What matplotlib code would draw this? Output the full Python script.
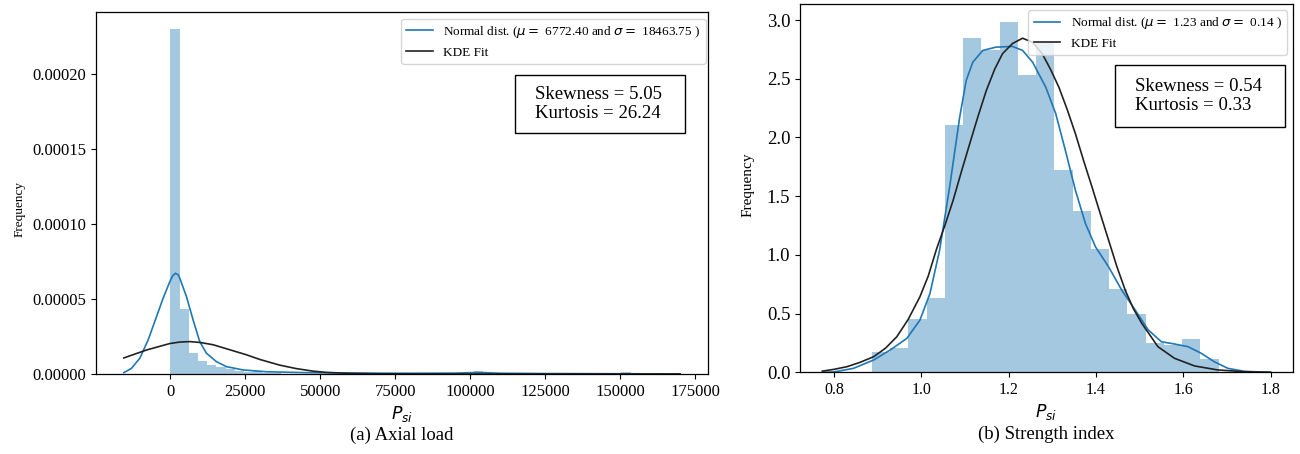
import numpy as np
import matplotlib
matplotlib.use("Agg")
import matplotlib.pyplot as plt
from matplotlib.patches import Rectangle

plt.rcParams['font.family'] = ['Liberation Serif', 'DejaVu Sans']
plt.rcParams['mathtext.fontset'] = 'dejavusans'

# ---- (a) Axial load ----
axial_bin_start = 0.0
axial_bin_width = 3070.0
axial_hist = [2.298e-4, 4.33e-5, 1.38e-5, 8.9e-6, 6.0e-6, 4.4e-6, 3.1e-6, 2.0e-6, 1.5e-6, 1.7e-6,
              0.6e-6, 0.4e-6, 0.3e-6, 0.3e-6, 0.2e-6, 0, 0, 0.2e-6, 0, 0,
              0, 0, 0, 0, 0, 0, 0, 0, 0, 0,
              0, 0, 0, 2.2e-6, 0.3e-6, 0, 0, 0, 0, 0,
              0, 0, 0, 0, 0, 0, 0, 0, 0, 1.1e-6]
# KDE curve (drawn blue, labelled "Normal dist.")
axial_kde_x = [-15500, -12930, -10170, -7390, -4600, -2400, -170, 800, 1700, 2600, 3170, 5400,
               7600, 9830, 12060, 15400, 18730, 24270, 32070, 45000, 60000, 80000,
               95000, 102000, 105000, 110000, 125000, 145000, 160000, 170000]
axial_kde_y = [0.9e-6, 3.8e-6, 1.05e-5, 2.27e-5, 3.82e-5, 5.05e-5, 6.15e-5, 6.55e-5, 6.71e-5, 6.62e-5,
               6.38e-5, 5.15e-5, 3.6e-5, 2.15e-5, 1.38e-5, 8.2e-6, 4.9e-6, 2.7e-6, 1.5e-6, 0.9e-6,
               0.6e-6, 0.5e-6, 0.6e-6, 1.0e-6, 0.9e-6, 0.5e-6, 0.3e-6, 0.2e-6, 0.1e-6, 0.05e-6]
# fitted curve (drawn black, labelled "KDE Fit")
axial_fit_x = [-15500, -7930, -170, 3170, 6500, 10000, 14270, 20930, 25400, 30000, 36500,
               42000, 47600, 52000, 58700, 70000, 90000, 120000, 150000, 170000]
axial_fit_y = [1.07e-5, 1.6e-5, 2.03e-5, 2.13e-5, 2.16e-5, 2.1e-5, 1.95e-5, 1.55e-5, 1.28e-5, 9.6e-6,
               5.9e-6, 3.6e-6, 1.9e-6, 1.1e-6, 0.5e-6, 0.1e-6, 0, 0, 0, 0]
axial_mu, axial_sigma = 6772.40, 18463.75
axial_skew, axial_kurt = 5.05, 26.24

# ---- (b) Strength index ----
strength_bin_start = 0.887
strength_bin_width = 0.0418
strength_hist = [0.175, 0.21, 0.453, 0.629, 2.109, 2.845, 2.741, 2.987, 2.531, 2.80,
                 1.726, 1.374, 1.054, 0.706, 0.493, 0.247, 0.235, 0.281, 0.113]
strength_kde_x = [0.7736, 0.80, 0.845, 0.891, 0.929, 0.967, 0.997, 1.020, 1.042, 1.065,
                  1.088, 1.103, 1.118, 1.141, 1.171, 1.209, 1.232, 1.255, 1.285, 1.308,
                  1.330, 1.353, 1.376, 1.399, 1.429, 1.459, 1.490, 1.520, 1.550, 1.580,
                  1.611, 1.641, 1.671, 1.702, 1.740, 1.80]
strength_kde_y = [0.0, 0.003, 0.034, 0.105, 0.19, 0.289, 0.445, 0.672, 1.04, 1.578,
                  2.173, 2.486, 2.641, 2.741, 2.769, 2.775, 2.741, 2.641, 2.429, 2.202,
                  1.89, 1.55, 1.267, 1.068, 0.898, 0.70, 0.53, 0.36, 0.26, 0.241,
                  0.218, 0.162, 0.09, 0.034, 0.008, 0.0]
strength_fit_x = [0.7736, 0.800, 0.830, 0.860, 0.891, 0.918, 0.944, 0.970, 0.997, 1.016, 1.035,
                  1.054, 1.073, 1.092, 1.111, 1.130, 1.149, 1.168, 1.186, 1.209, 1.232,
                  1.255, 1.277, 1.296, 1.315, 1.334, 1.353, 1.372, 1.391, 1.410, 1.429,
                  1.448, 1.467, 1.486, 1.505, 1.542, 1.580, 1.626, 1.679, 1.740, 1.80]
strength_fit_y = [0.01, 0.025, 0.048, 0.085, 0.133, 0.205, 0.303, 0.45, 0.644, 0.82, 1.05,
                  1.25, 1.465, 1.71, 1.947, 2.18, 2.40, 2.58, 2.713, 2.80, 2.845,
                  2.81, 2.713, 2.58, 2.429, 2.24, 2.032, 1.80, 1.578, 1.35, 1.125,
                  0.90, 0.70, 0.54, 0.417, 0.218, 0.119, 0.054, 0.02, 0.005, 0.0]
strength_mu, strength_sigma = 1.23, 0.14
strength_skew, strength_kurt = 0.54, 0.33

bar_color = '#1f77b4'
kde_color = '#1f77b4'
fit_color = '#222222'


def draw_panel(ax, start, width, hist, kde_x, kde_y, fit_x, fit_y, mu, sigma,
               skew, kurt, caption, leg_anchor, box, text_pos):
    lefts = start + width * np.arange(len(hist))
    ax.bar(lefts, hist, width=width, align='edge', color=bar_color, alpha=0.4, linewidth=0)
    ax.plot(kde_x, kde_y, color=kde_color, lw=1.2,
            label=r'Normal dist. ($\mu=$ {:.2f} and $\sigma=$ {:.2f} )'.format(mu, sigma))
    ax.plot(fit_x, fit_y, color=fit_color, lw=1.2, label='KDE Fit')
    ax.set_ylim(0, max(hist) * 1.05)
    ax.set_xlabel(r'$P_{si}$', fontsize=12.5, labelpad=3)
    ax.tick_params(labelsize=12, direction='out', length=3.5, width=0.8)
    for s in ax.spines.values():
        s.set_linewidth(0.9)
    ax.legend(loc='upper right', bbox_to_anchor=leg_anchor, borderaxespad=0,
              fontsize=9.5, framealpha=0.8)
    ax.add_patch(Rectangle(box[:2], box[2], box[3], transform=ax.transAxes,
                           fill=False, edgecolor='black', lw=1.0, zorder=5))
    ax.text(text_pos[0], text_pos[1],
            'Skewness = {:.2f}\nKurtosis = {:.2f}'.format(skew, kurt),
            transform=ax.transAxes, ha='left', va='center', fontsize=13.5,
            linespacing=1.1, zorder=6)
    ax.text(0.5, -0.145, caption, transform=ax.transAxes, ha='center', va='top',
            fontsize=13.5)


fig = plt.figure(figsize=(13, 4.54), dpi=100)
ax1 = fig.add_axes([96 / 1300, 80 / 454, 612 / 1300, 362 / 454])
ax2 = fig.add_axes([800 / 1300, 81.7 / 454, 493 / 1300, 368.3 / 454])

draw_panel(ax1, axial_bin_start, axial_bin_width, axial_hist, axial_kde_x, axial_kde_y,
           axial_fit_x, axial_fit_y, axial_mu, axial_sigma, axial_skew, axial_kurt,
           '(a) Axial load', (0.9967, 0.982), (0.684, 0.666, 0.278, 0.160), (0.717, 0.746))
ax1.set_xticks([0, 25000, 50000, 75000, 100000, 125000, 150000, 175000])
ax1.set_yticks([0, 0.00005, 0.0001, 0.00015, 0.0002])
ax1.set_yticklabels(['0.00000', '0.00005', '0.00010', '0.00015', '0.00020'])
ax1.set_ylabel('Frequency', fontsize=9.5)
ax1.yaxis.set_label_coords(-0.115, 0.455)

draw_panel(ax2, strength_bin_start, strength_bin_width, strength_hist, strength_kde_x,
           strength_kde_y, strength_fit_x, strength_fit_y, strength_mu, strength_sigma,
           strength_skew, strength_kurt, '(b) Strength index', (0.988, 0.984),
           (0.639, 0.666, 0.345, 0.168), (0.680, 0.750))
ax2.set_xticks([0.8, 1.0, 1.2, 1.4, 1.6, 1.8])
ax2.tick_params(axis='x', labelsize=11.5)
ax2.tick_params(axis='y', labelsize=13.5)
ax2.set_ylabel('Frequency', fontsize=11)
ax2.yaxis.set_label_coords(-0.093, 0.51)

fig.savefig('out.png', dpi=100)
